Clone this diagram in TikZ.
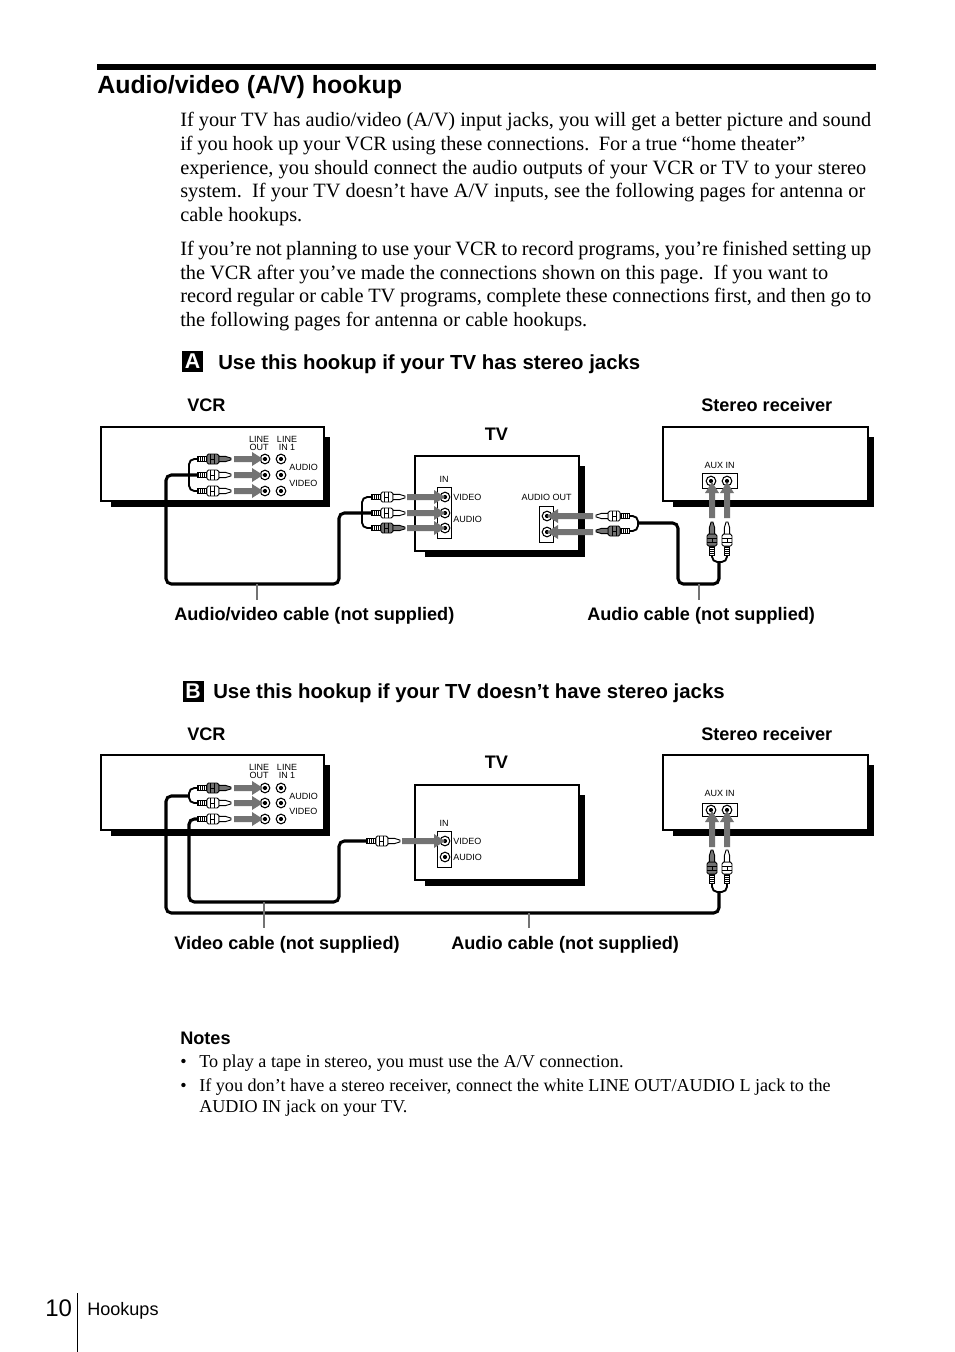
\documentclass[tikz,border=0pt]{standalone}
\usepackage{fontspec}
\setmainfont{Liberation Serif}
\setsansfont{Liberation Sans}
\usetikzlibrary{arrows.meta}
\newlength{\pxu}\setlength{\pxu}{0.75pt}
\newcommand{\fitline}[2]{\makebox[#1\pxu][s]{#2}}
\colorlet{plugfill}{white}
\newcommand{\garl}{30}
\tikzset{
  x=0.75pt,y=-0.75pt,
  boxline/.style={draw=black,line width=1.6pt,fill=white},
  shadow/.style={fill=black,draw=none},
  panel/.style={draw=black,line width=0.6pt,fill=white},
  mainc/.style={draw=black,line width=2.3pt,rounded corners=4pt},
  branch/.style={draw=black,line width=1.4pt,rounded corners=4pt},
  leader/.style={draw=black!55,line width=1.5pt},
  body/.style={anchor=base west,inner sep=0pt,font=\fontsize{15.25}{18}\selectfont},
  note/.style={anchor=base west,inner sep=0pt,font=\fontsize{13.6}{16}\selectfont},
  head/.style={anchor=base west,inner sep=0pt,font=\sffamily\bfseries\fontsize{15.27}{18}\selectfont},
  sub/.style={anchor=base west,inner sep=0pt,font=\sffamily\bfseries\fontsize{13.6}{15}\selectfont},
  badge/.style={fill=black,text=white,font=\sffamily\bfseries\fontsize{16}{18}\selectfont,minimum width=21\pxu,minimum height=21\pxu,inner sep=0pt},
  tiny/.style={inner sep=0pt,font=\sffamily\fontsize{6.75}{7.6}\selectfont},
  jackpic/.pic={\draw[line width=0.8pt,fill=white] (0,0) circle[radius=4.8];\fill (0,0) circle[radius=2.1];},
  garrowpic/.pic={\fill[black!55] (0,-3) -- (\garl-11,-3) -- (\garl-11,-7) -- (\garl,0) -- (\garl-11,7) -- (\garl-11,3) -- (0,3) -- cycle;},
  plugpic/.pic={
    \fill[black] (0,-2.6) rectangle (10,2.6);
    \foreach \q in {2,4,6,8}{\draw[white,line width=0.3pt] (\q,-2) -- (\q,2);}
    \draw[black,line width=0.7pt,fill=plugfill] (10,-3.4) -- (11.5,-5) -- (20,-5) -- (22,-3.4) -- (22,3.4) -- (20,5) -- (11.5,5) -- (10,3.4) -- cycle;
    \draw[black,line width=0.5pt] (13.5,-5) -- (13.5,5) (17.5,-5) -- (17.5,5) (13.5,0) -- (17.5,0);
    \draw[black,line width=0.7pt,fill=plugfill] (22,-2.6) -- (28.5,-2.6) -- (34,-0.9) -- (34,0.9) -- (28.5,2.6) -- (22,2.6) -- cycle;
  },
}
\newcommand{\plugW}[4]{\colorlet{plugfill}{#4}\pic (#1) at (#2) [rotate=#3] {plugpic};}
\newcommand{\garr}[3]{\renewcommand{\garl}{#3}\pic at (#1) [rotate=#2] {garrowpic};}
\newcommand{\devbox}[5]{%
  \fill[shadow] (#1+11,#2+11) rectangle (#3+6,#4+6);
  \pgfmathsetmacro{\bw}{#3-#1-1.5}\pgfmathsetmacro{\bh}{#4-#2-1}
  \node[boxline,minimum width=\bw\pxu,minimum height=\bh\pxu,inner sep=0pt,anchor=north west] (#5) at (#1,#2) {};
}
\begin{document}
\begin{tikzpicture}
\useasboundingbox (0,0) rectangle (954,1352);
\fill[white] (0,0) rectangle (954,1352);
% header
\fill[black] (97,64) rectangle (876,70);
\node[head,font=\sffamily\bfseries\fontsize{18.7}{22}\selectfont] (title) at (97,93.5) {Audio/video (A/V) hookup};
\node[body] (p1) at (180,127) {\fitline{691}{If your TV has audio/video (A/V) input jacks, you will get a better picture and sound}};
\node[body] (p2) at (180,150.5) {\fitline{625}{if you hook up your VCR using these connections.\ \ For a true “home theater”}};
\node[body] (p3) at (180,174.5) {\fitline{686}{experience, you should connect the audio outputs of your VCR or TV to your stereo}};
\node[body] (p4) at (180,197.5) {\fitline{685}{system.\ \ If your TV doesn’t have A/V inputs, see the following pages for antenna or}};
\node[body] (p5) at (180,221) {cable hookups.};
\node[body] (p6) at (180,255) {\fitline{691}{If you’re not planning to use your VCR to record programs, you’re finished setting up}};
\node[body] (p7) at (180,279) {\fitline{648}{the VCR after you’ve made the connections shown on this page.\ \ If you want to}};
\node[body] (p8) at (180,302) {\fitline{691}{record regular or cable TV programs, complete these connections first, and then go to}};
\node[body] (p9) at (180,326) {\fitline{407}{the following pages for antenna or cable hookups.}};
% section A
\node[badge] (ba) at (192.5,361.5) {A};
\node[head] (ha) at (218,369) {Use this hookup if your TV has stereo jacks};
\node[sub] (la1) at (187,411.2) {VCR};
\node[sub] (la2) at (701,411.2) {Stereo receiver};
\node[sub] (la3) at (484.5,440.2) {TV};
\devbox{100}{426}{324}{501}{vcrA}
\devbox{414}{455}{579}{551}{tvA}
\devbox{662}{426}{868}{501}{recA}
% VCR A text/jacks
\node[tiny,align=center] (tA1) at (259,443.5) {LINE\\[-1.5pt]OUT};
\node[tiny,align=center] (tA2) at (287,443.5) {LINE\\[-1.5pt]IN 1};
\node[tiny,anchor=west] (tA3) at (289,467) {AUDIO};
\node[tiny,anchor=west] (tA4) at (289,483) {VIDEO};
\foreach \x/\y in {265/459,265/475,265/491,281/459,281/475,281/491}{\pic at (\x,\y) {jackpic};}
% TV A panels
\draw[panel] (437.5,487) rectangle (451,538.5);
\draw[panel] (539,506) rectangle (553,542);
\draw[panel] (702,473) rectangle (737,488);
\foreach \x/\y in {445/497,445/513,445/528,547/516,547/532,711/481,727/481}{\pic at (\x,\y) {jackpic};}
\node[tiny] (tA5) at (444,479) {IN};
\node[tiny,anchor=west] (tA6) at (453,497) {VIDEO};
\node[tiny,anchor=west] (tA7) at (453,519) {AUDIO};
\node[tiny] (tA8) at (546.5,497) {AUDIO OUT};
\node[tiny] (tA9) at (719.5,465) {AUX IN};
% cables A
\coordinate (ca1) at (197,459); \coordinate (ca2) at (197,475); \coordinate (ca3) at (197,491);
\coordinate (cb1) at (371,497); \coordinate (cb2) at (371,513); \coordinate (cb3) at (371,528);
\coordinate (cc1) at (630,516); \coordinate (cc2) at (630,531);
\coordinate (cd1) at (712,556); \coordinate (cd2) at (727,556);
\draw[branch] (ca1) -- (189,459) -- (189,491) -- (ca3);
\draw[branch] (cb1) -- (362,497) -- (362,528) -- (cb3);
\draw[branch] (cc1) -- (638,516) -- (638,531) -- (cc2);
\draw[branch] (cd1) -- (712,562) -- (727,562) -- (cd2);
\draw[mainc] (ca2) -- (166,475) -- (166,584) -- (339,584) -- (339,513) -- (cb2);
\draw[mainc] (638,523) -- (678,523) -- (678,584) -- (719,584) -- (719,562);
% plugs A
\plugW{pa1}{197,459}{0}{black!55}
\plugW{pa2}{197,475}{0}{white}
\plugW{pa3}{197,491}{0}{white}
\plugW{pb1}{371,497}{0}{white}
\plugW{pb2}{371,513}{0}{white}
\plugW{pb3}{371,528}{0}{black!55}
\plugW{pc1}{630,516}{180}{white}
\plugW{pc2}{630,531}{180}{black!55}
\plugW{pd1}{712,556}{90}{black!55}
\plugW{pd2}{727,556}{90}{white}
% arrows A
\garr{234,459}{0}{29}\garr{234,475}{0}{29}\garr{234,491}{0}{29}
\garr{407,497}{0}{38}\garr{407,513}{0}{38}\garr{407,528}{0}{38}
\garr{593,516}{180}{46}\garr{593,532}{180}{46}
\garr{712,518}{90}{36}\garr{727,518}{90}{36}
% leaders A
\coordinate (lda) at (257,584); \coordinate (ldb) at (699,584);
\coordinate (lda2) at (257,600); \coordinate (ldb2) at (699,600);
\draw[leader] (lda) -- (lda2);
\draw[leader] (ldb) -- (ldb2);
\node[sub] (l1) at (174,620) {Audio/video cable (not supplied)};
\node[sub] (l2) at (587,620) {Audio cable (not supplied)};
% section B
\node[badge] (bb) at (193,691) {B};
\node[head] (hb) at (213,698) {Use this hookup if your TV doesn’t have stereo jacks};
\node[sub] (lb1) at (187,740.2) {VCR};
\node[sub] (lb2) at (701,740.2) {Stereo receiver};
\node[sub] (lb3) at (484.5,768.2) {TV};
\devbox{100}{754}{324}{830}{vcrB}
\devbox{414}{784}{579}{880}{tvB}
\devbox{662}{754}{868}{830}{recB}
\node[tiny,align=center] (tB1) at (259,771.5) {LINE\\[-1.5pt]OUT};
\node[tiny,align=center] (tB2) at (287,771.5) {LINE\\[-1.5pt]IN 1};
\node[tiny,anchor=west] (tB3) at (289,796) {AUDIO};
\node[tiny,anchor=west] (tB4) at (289,811) {VIDEO};
\foreach \x/\y in {265/788,265/803,265/819,281/788,281/803,281/819}{\pic at (\x,\y) {jackpic};}
\draw[panel] (437.5,831) rectangle (451,867);
\draw[panel] (702,803) rectangle (737,816);
\foreach \x/\y in {445/841,445/857,711/810,727/810}{\pic at (\x,\y) {jackpic};}
\node[tiny] (tB5) at (444,823) {IN};
\node[tiny,anchor=west] (tB6) at (453,841) {VIDEO};
\node[tiny,anchor=west] (tB7) at (453,857) {AUDIO};
\node[tiny] (tB9) at (719.5,793) {AUX IN};
\coordinate (ce1) at (197,788); \coordinate (ce2) at (197,803); \coordinate (ce3) at (197,819);
\coordinate (cf1) at (366,841);
\coordinate (cg1) at (712,884); \coordinate (cg2) at (727,884);
\draw[branch] (ce1) -- (189,788) -- (189,803) -- (ce2);
\draw[branch] (cg1) -- (712,892) -- (727,892) -- (cg2);
\draw[mainc] (189,796) -- (166,796) -- (166,913) -- (719,913) -- (719,892);
\draw[mainc] (ce3) -- (189,819) -- (189,902) -- (339,902) -- (339,841) -- (cf1);
\plugW{pe1}{197,788}{0}{black!55}
\plugW{pe2}{197,803}{0}{white}
\plugW{pe3}{197,819}{0}{white}
\plugW{pf1}{366,841}{0}{white}
\plugW{pg1}{712,884}{90}{black!55}
\plugW{pg2}{727,884}{90}{white}
\garr{234,788}{0}{29}\garr{234,803}{0}{29}\garr{234,819}{0}{29}
\garr{402,841}{0}{43}
\garr{712,847}{90}{36}\garr{727,847}{90}{36}
\coordinate (ldc) at (264,902); \coordinate (ldd) at (529,913);
\coordinate (ldc2) at (264,928); \coordinate (ldd2) at (529,928);
\draw[leader] (ldc) -- (ldc2);
\draw[leader] (ldd) -- (ldd2);
\node[sub] (l3) at (174,949) {Video cable (not supplied)};
\node[sub] (l4) at (451,949) {Audio cable (not supplied)};
% notes
\node[sub] (nh) at (180,1044) {Notes};
\node[note] (n0) at (180,1067) {•};
\node[note] (n1) at (199,1067) {To play a tape in stereo, you must use the A/V connection.};
\node[note] (n2) at (180,1091) {•};
\node[note] (n3) at (199,1091) {If you don’t have a stereo receiver, connect the white LINE OUT/AUDIO L jack to the};
\node[note] (n4) at (199,1112) {AUDIO IN jack on your TV.};
% footer
\node[anchor=base west,inner sep=0pt,font=\sffamily\fontsize{18}{22}\selectfont] (pg) at (45,1316) {10};
\draw[black,line width=0.8pt] (77.5,1293) -- (77.5,1352);
\node[anchor=base west,inner sep=0pt,font=\sffamily\fontsize{13.55}{15}\selectfont] (hk) at (87,1315) {Hookups};
\end{tikzpicture}
\end{document}
